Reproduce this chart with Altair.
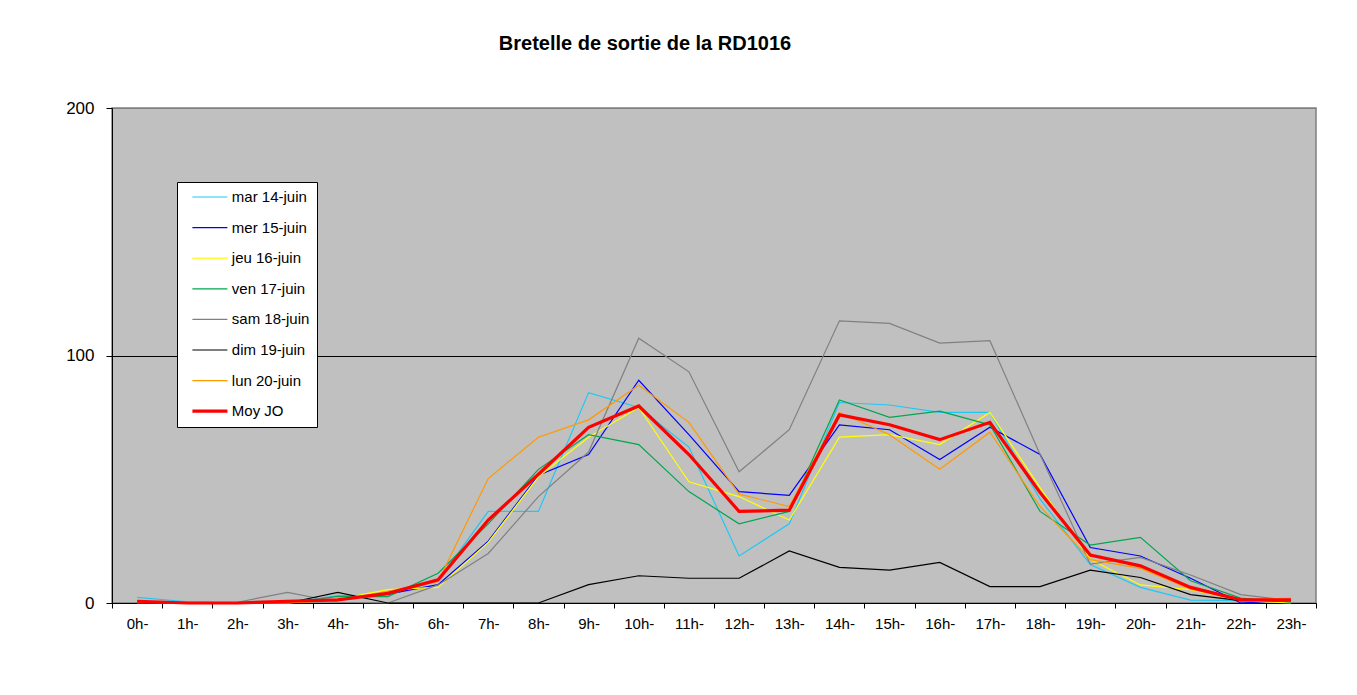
import altair as alt
import pandas as pd

hours = [f"{h}h-" for h in range(24)]

series_names = ["mar 14-juin", "mer 15-juin", "jeu 16-juin", "ven 17-juin",
                "sam 18-juin", "dim 19-juin", "lun 20-juin", "Moy JO"]
series_colors = ["#1EC8F5", "#0000FF", "#FFFF00", "#00A651",
                 "#808080", "#000000", "#FF9900", "#FF0000"]
series_widths = [1.2, 1.2, 1.2, 1.2, 1.2, 1.2, 1.2, 3.2]

mar = [2.3, 0.5, 0, 0, 3, 3.2, 9, 37, 37, 85, 79, 63, 19, 32, 81, 80, 77, 77, 42, 15.5, 6.3, 1.2, 1, 1]
mer = [0, 0, 0, 0, 1.5, 3.6, 7.4, 25, 51.6, 60, 90, 68, 45, 43.5, 72, 70, 58, 71, 60, 22.4, 19, 10, 0, 1]
jeu = [0, 0, 0, 0, 1.6, 5.4, 6.3, 24.5, 51, 67, 79, 49, 43, 33.5, 67, 68, 64, 77, 46.6, 17.7, 7.3, 5.4, 1, 0]
ven = [0, 0, 0, 0, 2.7, 2.6, 12, 32, 54, 68, 64, 45, 32, 37, 82, 75, 77.5, 72, 37, 23.4, 26.5, 9, 2, 0.3]
sam = [0, 0, 0.3, 4.3, 0.3, 0, 7.3, 20, 43, 61, 107, 93.4, 53, 70, 114, 113, 105, 106, 60, 15.7, 18.4, 11.3, 3.4, 1]
dim = [0, 0, 0, 0, 4.3, 0, 0, 0, 0, 7.4, 11, 10, 10, 21, 14.4, 13.3, 16.4, 6.6, 6.6, 13.3, 10.3, 3.4, 1, 1]
lun = [0.3, 0, 0, 0, 1, 4.7, 8.7, 50.3, 67, 74, 88, 73, 44, 39, 77, 68, 54, 69, 39, 17.5, 14, 5.6, 1.2, 2]
moy = [0.7, 0, 0, 0.7, 1.3, 3.9, 9.4, 33.5, 52, 71, 79.6, 60, 37, 37.5, 76, 72, 66, 73, 44.6, 19.4, 15, 6.3, 1.3, 1.3]

all_values = [mar, mer, jeu, ven, sam, dim, lun, moy]

rows = []
for name, vals in zip(series_names, all_values):
    for h, v in zip(hours, vals):
        rows.append({"heure": h, "valeur": v, "serie": name})
df = pd.DataFrame(rows)

FONT = "Liberation Sans"

x_enc = alt.X(
    "heure:O",
    sort=hours,
    scale=alt.Scale(type="band", paddingInner=0, paddingOuter=0),
    axis=alt.Axis(
        title=None, labelAngle=0, tickBand="extent", tickSize=5,
        labelPadding=8, labelFontSize=15, labelColor="black",
        domainColor="black", tickColor="black", labelFont=FONT, grid=False,
    ),
)
y_enc = alt.Y(
    "valeur:Q",
    scale=alt.Scale(domain=[0, 200], nice=False, zero=True),
    axis=alt.Axis(
        title=None, values=[0, 100, 200], tickSize=6, labelPadding=12,
        labelFontSize=17, labelColor="black", labelFont=FONT,
        domainColor="black", tickColor="black",
        grid=True,
        gridColor=alt.condition("datum.value === 200", alt.value("#808080"), alt.value("#000000")),
        gridWidth=1,
    ),
)
legend = alt.Legend(
    title=None, orient="none", legendX=65, legendY=74,
    fillColor="white", strokeColor="black", padding=7.5,
    symbolType="stroke", symbolSize=1225, clipHeight=15,
    rowPadding=14.6, symbolOffset=5.9, labelOffset=2.4,
    labelFontSize=15, labelFont=FONT, labelColor="black",
    cornerRadius=0,
)
color_enc = alt.Color(
    "serie:N",
    sort=series_names,
    scale=alt.Scale(domain=series_names, range=series_colors),
    legend=legend,
)
width_enc = alt.StrokeWidth(
    "serie:N",
    sort=series_names,
    scale=alt.Scale(type="ordinal", domain=series_names, range=series_widths),
    legend=legend,
)

base = alt.Chart(df)
others = base.transform_filter(alt.datum.serie != "Moy JO").mark_line(clip=False).encode(
    x=x_enc, y=y_enc, color=color_enc, strokeWidth=width_enc
)
avg = base.transform_filter(alt.datum.serie == "Moy JO").mark_line(clip=False).encode(
    x=x_enc, y=y_enc, color=color_enc, strokeWidth=width_enc
)

chart = alt.layer(others, avg).properties(
    width=1204,
    height=495,
    background="white",
    title=alt.TitleParams(
        "Bretelle de sortie de la RD1016",
        fontSize=20, fontWeight="bold", font=FONT, color="black",
        anchor="middle", dx=-69, offset=45,
    ),
    autosize=alt.AutoSizeParams(type="none"),
    padding={"left": 104, "top": 100, "right": 33, "bottom": 84},
).configure_view(
    fill="#C0C0C0", stroke="#808080", strokeWidth=1.5
)

chart.save("out.html", embed_options={"renderer": "svg", "actions": False})
